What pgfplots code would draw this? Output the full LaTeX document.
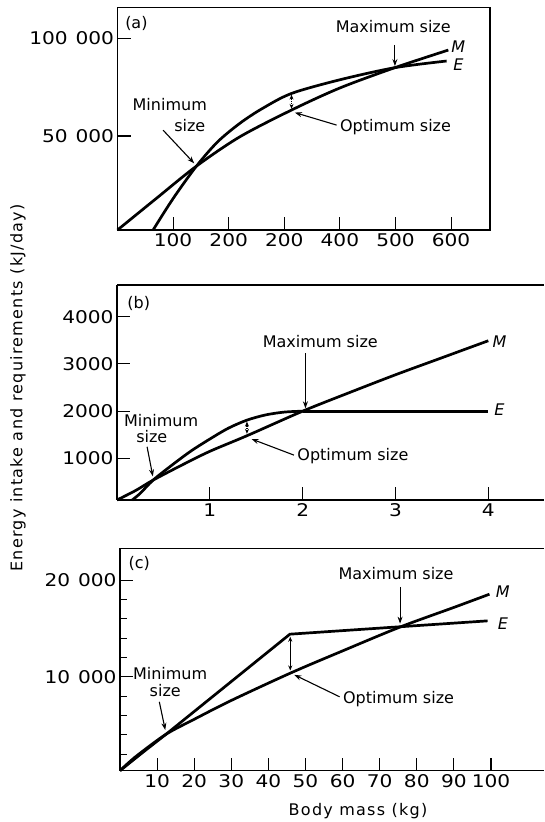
\documentclass[border=0pt]{standalone}
\usepackage{pgfplots}
\pgfplotsset{compat=1.18}
\usepackage{fontspec}
\setmainfont{DejaVu Sans}
\newfontfamily\tickfont[FakeStretch=1.15]{DejaVu Sans}
\newfontfamily\labfont[LetterSpace=8]{DejaVu Sans}
\usetikzlibrary{arrows.meta}
\pgfplotsset{
  panel/.style={scale only axis, anchor=south west, clip=false,
    scaled x ticks=false, scaled y ticks=false,
    axis line style={line width=1.5pt},
    tick style={line width=1.1pt, black},
    tick align=inside, major tick length=13pt, minor tick length=7pt,
    xtick pos=bottom, ytick pos=left,
    tick label style={font=\fontsize{17.5}{20}\tickfont},
    /pgf/number format/assume math mode=true},
  curve/.style={line width=2.7pt, black},
}
\tikzset{ann/.style={font=\fontsize{16}{18}\selectfont},
  it/.style={font=\fontsize{16}{18}\selectfont\itshape},
  arr/.style={line width=1.1pt, -{Stealth[length=7pt,width=5pt]}},
  darr/.style={line width=1.1pt, {Stealth[length=5pt,width=4pt]}-{Stealth[length=5pt,width=4pt]}}}
\begin{document}
\begin{tikzpicture}[x=1pt,y=1pt]
\useasboundingbox (0,0) rectangle (544,822);
% ---------------- (a)
\begin{axis}[panel, at={(117.5pt,592pt)}, width=372.5pt, height=222.7pt,
  xmin=0, xmax=670, ymin=1900, ymax=115900,
  xtick={100,200,300,400,500,600}, xticklabels={100,200,200,400,500,600},
  ytick={50000,100000}, yticklabels={50\hspace{0.45em}000,100\hspace{0.45em}000}]
\addplot[curve, smooth] coordinates {(0,1900) (70,18100) (142,34600) (220,49600) (313,63300) (400,74600) (499,85000) (595,94000)};
\addplot[curve, smooth] coordinates {(64,1900) (100,18000) (142,34600) (180,47000) (220,56500) (260,64000) (313,71800) (400,78800) (499,85000) (592,88400)};
\node[ann] at (axis cs:34,107600) {(a)};
\node[ann] at (axis cs:496,106000) {Maximum size};
\draw[arr] (axis cs:499,96600) -- (axis cs:499,85800);
\node[it] at (axis cs:613,95700) {M};
\node[it] at (axis cs:613,86300) {E};
\node[ann] at (axis cs:94,65900) {Minimum};
\node[ann] at (axis cs:130,55600) {size};
\draw[arr] (axis cs:82,53000) -- (axis cs:138,36000);
\node[ann, anchor=west] at (axis cs:394,54500) {Optimum size};
\draw[arr] (axis cs:394,55600) -- (axis cs:319,62000);
\draw[darr, densely dotted] (axis cs:313,63900) -- (axis cs:313,71200);
\end{axis}
% ---------------- (b)
\begin{axis}[panel, at={(117pt,322pt)}, width=427pt, height=215pt,
  axis x line*=box, axis y line*=left,
  xmin=0, xmax=4.6, ymin=120, ymax=4670,
  xtick={1,2,3,4}, ytick={1000,2000,3000,4000},
  yticklabels={1000,2000,3000,4000}]
\addplot[curve, smooth] coordinates {(0,120) (0.2,320) (0.389,541) (0.7,860) (1,1150) (1.4,1480) (2,2000) (2.5,2390) (3,2770) (3.5,3130) (4,3490)};
\addplot[curve, smooth] coordinates {(0.164,120) (0.25,260) (0.389,541) (0.6,870) (0.8,1160) (1.0,1410) (1.2,1640) (1.4,1810) (1.6,1920) (1.8,1980) (2.0,2000)};
\addplot[curve] coordinates {(2.0,2000) (4.0,2000)};
\node[ann] at (axis cs:0.235,4280) {(b)};
\node[ann] at (axis cs:2.19,3470) {Maximum size};
\draw[arr] (axis cs:2.03,3222) -- (axis cs:2.03,2060);
\node[it] at (axis cs:4.12,3470) {M};
\node[it] at (axis cs:4.12,2023) {E};
\node[ann] at (axis cs:0.475,1810) {Minimum};
\node[ann] at (axis cs:0.375,1473) {size};
\draw[arr] (axis cs:0.324,1247) -- (axis cs:0.386,620);
\node[ann, anchor=west] at (axis cs:1.906,1040) {Optimum size};
\draw[arr] (axis cs:1.906,1070) -- (axis cs:1.45,1410);
\draw[darr, densely dotted] (axis cs:1.40,1520) -- (axis cs:1.40,1780);
\end{axis}
% ---------------- (c)
\begin{axis}[panel, at={(120pt,51.3pt)}, width=424pt, height=222.4pt,
  axis x line*=box, axis y line*=left,
  xmin=0, xmax=114.3, ymin=280, ymax=23300,
  xtick={10,20,...,100}, ytick={10000,20000},
  yticklabels={10\hspace{0.45em}000,20\hspace{0.45em}000},
  minor ytick={2000,4000,6000,8000,12000,14000,16000,18000}]
\addplot[curve, smooth] coordinates {(0,280) (2,1000) (5,1970) (12.4,4050) (20,5600) (30,7550) (46.1,10410) (60,12680) (75.5,15150) (90,17180) (99.6,18550)};
\addplot[curve] coordinates {(0,280) (6,2130) (12.4,4050) (45.8,14410) (75.5,15180) (99.1,15790)};
\node[ann] at (axis cs:5.2,21700) {(c)};
\node[ann] at (axis cs:74.4,20700) {Maximum size};
\draw[arr] (axis cs:75.5,19300) -- (axis cs:75.5,15500);
\node[it] at (axis cs:103.2,18800) {M};
\node[it] at (axis cs:103.2,15500) {E};
\node[ann] at (axis cs:13.5,10340) {Minimum};
\node[ann] at (axis cs:12.2,8550) {size};
\draw[arr] (axis cs:10.6,7410) -- (axis cs:12.2,4500);
\node[ann, anchor=west] at (axis cs:59.2,7700) {Optimum size};
\draw[arr] (axis cs:59.2,7930) -- (axis cs:47.0,10200);
\draw[darr] (axis cs:45.9,10650) -- (axis cs:45.9,14150);
\end{axis}
\node[rotate=90, font=\fontsize{16}{18}\labfont] at (18,434) {Energy intake and requirements (kJ/day)};
\node[font=\fontsize{16}{18}\labfont] at (358,11) {Body mass (kg)};
\end{tikzpicture}
\end{document}
